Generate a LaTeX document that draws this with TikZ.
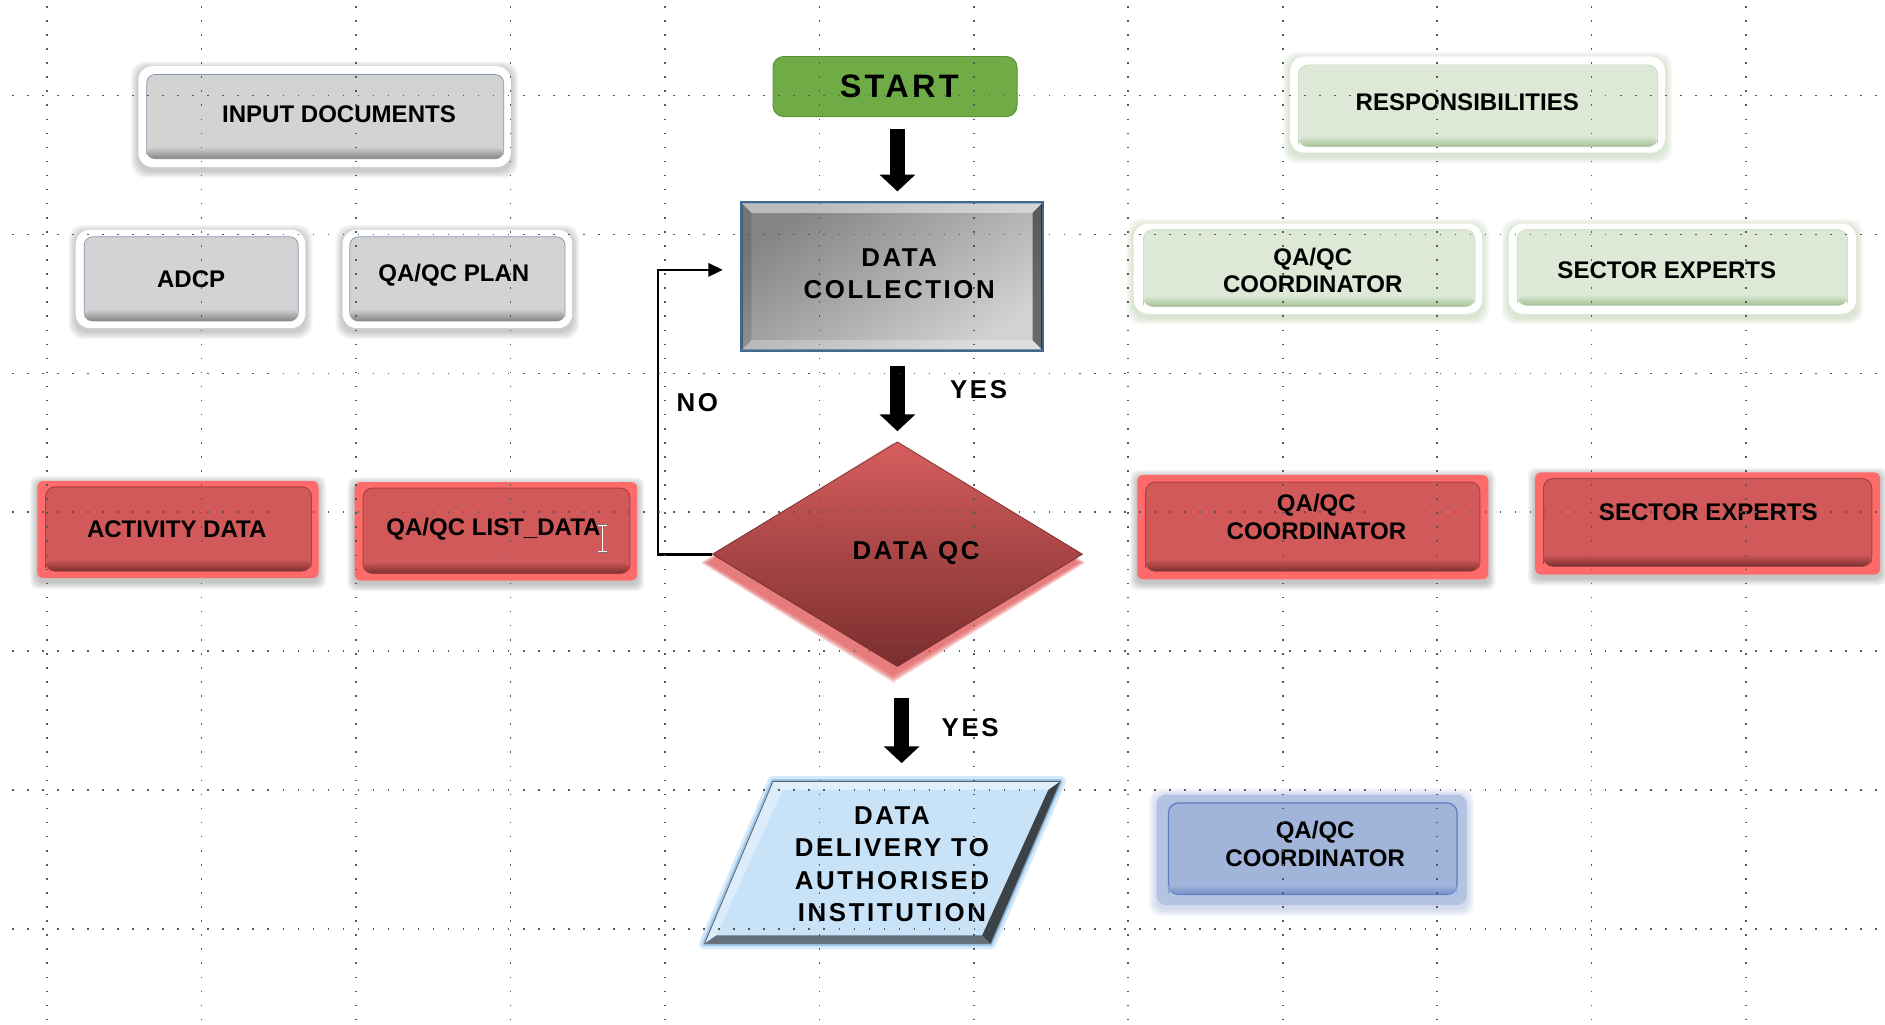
\documentclass[tikz,border=0pt]{standalone}
\usepackage{fontspec}
\setmainfont{Liberation Sans}
\newfontfamily\spacedfont{Liberation Sans}[LetterSpace=10]
\usetikzlibrary{shapes.geometric,arrows.meta,calc}

\definecolor{grayfill}{HTML}{D3D3D3}
\definecolor{graydark}{HTML}{858585}
\definecolor{grayedge}{HTML}{8296B0}
\definecolor{grnfill}{HTML}{DDE9D6}
\definecolor{grndark}{HTML}{A3C194}
\definecolor{grnshadow}{HTML}{7FA86B}
\definecolor{redout}{HTML}{FF6B6B}
\definecolor{redin}{HTML}{D15959}
\definecolor{reddark}{HTML}{7E3030}
\definecolor{rededge}{HTML}{A84242}
\definecolor{bluout}{HTML}{B3C3E2}
\definecolor{bluin}{HTML}{A1B4D9}
\definecolor{bluedge}{HTML}{5B7CC0}
\definecolor{startg}{HTML}{6FAC45}
\definecolor{startedge}{HTML}{5A9236}
\definecolor{dcedge}{HTML}{44698F}
\definecolor{dctop}{HTML}{858585}
\definecolor{dcbot}{HTML}{D2D2D2}
\definecolor{qctop}{HTML}{D65E5E}
\definecolor{qcbot}{HTML}{7A2D2D}
\definecolor{qcglow}{HTML}{E04848}
\definecolor{parfill}{HTML}{C8E2F8}
\definecolor{parglow}{HTML}{8CC2F0}

% soft shadow: x1,y1,x2,y2,color,opacity,radius
\newcommand\softsh[7]{\foreach \k in {1,...,6}{\fill[#5,opacity=#6,rounded corners=#7pt] ({#1-\k},{#2-\k+2}) rectangle ({#3+\k},{#4+\k+3});}}
% node from corners: style,name,x1,y1,x2,y2
\newcommand\shapebox[6]{\node[#1, minimum width={#5pt-#3pt}, minimum height={#6pt-#4pt}] (#2) at ({(#3+#5)/2},{(#4+#6)/2}) {};}
% gray box: name, halo x1 y1 x2 y2, inner x1 y1 x2 y2
\newcommand\grayboxx[9]{%
  \softsh{#2}{#3}{#4}{#5}{black}{0.035}{12}
  \fill[white, rounded corners=12pt] (#2,#3) rectangle (#4,#5);
  \shapebox{grayshape}{#1}{#6}{#7}{#8}{#9}
  \shade[top color=grayfill, bottom color=graydark, rounded corners=7pt] (#6,{#9-10}) rectangle (#8,#9);}
\newcommand\greenboxx[9]{%
  \softsh{#2}{#3}{#4}{#5}{grnshadow}{0.05}{12}
  \fill[white, rounded corners=12pt] (#2,#3) rectangle (#4,#5);
  \shapebox{greenshape}{#1}{#6}{#7}{#8}{#9}
  \shade[top color=grnfill, bottom color=grndark, rounded corners=8pt] (#6,{#9-9}) rectangle (#8,#9);}
\newcommand\redboxx[9]{%
  \softsh{#2}{#3}{#4}{#5}{black}{0.04}{6}
  \fill[redout, rounded corners=5pt] (#2,#3) rectangle (#4,#5);
  \shapebox{redshape}{#1}{#6}{#7}{#8}{#9}
  \shade[top color=redin, bottom color=reddark, rounded corners=8pt] (#6,{#9-10}) rectangle (#8,#9);}

\begin{document}
\begin{tikzpicture}[x=1pt,y=-1pt,
  grayshape/.style={rectangle, rounded corners=7pt, fill=grayfill, draw=grayedge, line width=0.6pt},
  greenshape/.style={rectangle, rounded corners=8pt, fill=grnfill, draw=grnfill!90!black, line width=0.4pt},
  redshape/.style={rectangle, rounded corners=8pt, fill=redin, draw=rededge, line width=0.9pt},
  blueshape/.style={rectangle, rounded corners=8pt, fill=bluin, draw=bluedge, line width=1pt},
  startshape/.style={rectangle, rounded corners=9pt, fill=startg, draw=startedge, line width=0.8pt, minimum width=203pt, minimum height=50pt},
  dcshape/.style={rectangle, draw=dcedge, line width=1.5pt, top color=dctop, bottom color=dcbot, shading angle=35, minimum width=250pt, minimum height=122pt},
  qcshape/.style={diamond, draw=qcbot, line width=0.6pt, top color=qctop, bottom color=qcbot, minimum width=308pt, minimum height=187pt, inner sep=0pt},
  parshape/.style={rectangle, minimum width=296pt, minimum height=135pt, inner sep=0pt},
  txt/.style={font=\bfseries\fontsize{20}{23}\selectfont, align=center, inner sep=0pt},
  stxt/.style={font=\spacedfont\bfseries\fontsize{21.5}{26.5}\selectfont, align=center, inner sep=0pt},
  blockarrow/.style={line width=12pt, -{Triangle[width=29pt,length=14pt]}},
  loopline/.style={line width=2.2pt, -{Triangle[width=11pt,length=12pt]}},
  griddots/.style={line width=1.3pt, black!65, dash pattern=on 1.3pt off 11.2pt},
  ]
\useasboundingbox (0,0) rectangle (1568,852.6);
\fill[white] (0,0) rectangle (1568,852.6);

% ---- input documents (gray) ----
\grayboxx{inp}{115}{55}{425}{139}{122}{62}{419}{132}
\grayboxx{adcp}{63}{191}{254}{273}{70}{197}{248}{267}
\grayboxx{plan}{285}{191}{476}{273}{291}{197}{470}{267}

% ---- responsibilities (green) ----
\greenboxx{resp}{1073}{47}{1385}{127}{1080}{54}{1379}{122}
\greenboxx{gcoord}{943}{186}{1233}{261}{951}{191}{1227}{255}
\greenboxx{gsect}{1255}{186}{1544}{261}{1262}{191}{1537}{254}

% ---- red boxes ----
\redboxx{act}{31}{400}{265}{481}{38}{405}{259}{475}
\redboxx{lst}{295}{401}{530}{483}{302}{406}{524}{477}
\redboxx{rcoord}{946}{395}{1238}{482}{953}{401}{1231}{475}
\redboxx{rsect}{1277}{393}{1564}{478}{1284}{398}{1557}{471}

% ---- blue box ----
\foreach \k in {1,...,6}{\fill[bluout,opacity=0.12,rounded corners=10pt] ({962-\k},{661-\k+1}) rectangle ({1220+\k},{753+\k+3});}
\fill[bluout, rounded corners=8pt] (962,661) rectangle (1220,753);
\shapebox{blueshape}{bcoord}{972}{668}{1212}{744}
\shade[top color=bluin, bottom color=bluedge!85, rounded corners=8pt] (972,736) rectangle (1212,744);

% ---- start ----
\node[startshape] (start) at (744.5,72) {};

% ---- data collection ----
\node[dcshape] (dc) at (742,230) {};
\fill[white, opacity=0.45] (617,169) -- (867,169) -- (859,177) -- (625,177) -- cycle;
\fill[black, opacity=0.5] (867,169) -- (867,291) -- (859,283) -- (859,177) -- cycle;
\fill[white, opacity=0.25] (617,291) -- (867,291) -- (859,283) -- (625,283) -- cycle;
\fill[black, opacity=0.12] (617,169) -- (625,177) -- (625,283) -- (617,291) -- cycle;
\draw[dcedge, line width=1.5pt] (dc.south west) rectangle (dc.north east);

% ---- data qc diamond ----
\foreach \k in {0,...,6}{\fill[qcglow, opacity=0.16] ({743},{374-\k}) -- ({897+\k},468) -- (743,{562+\k}) -- ({589-\k},468) -- cycle;}
\node[qcshape] (qc) at (746.5,461) {};

% ---- data delivery parallelogram ----
\node[parshape] (par) at (734,717.5) {};
\draw[parglow, line width=9pt, opacity=0.35, line join=round] (643,650) -- (882,650) -- (824,785) -- (586,785) -- cycle;
\draw[parglow, line width=4pt, opacity=0.8, line join=round] (643,650) -- (882,650) -- (824,785) -- (586,785) -- cycle;
\fill[parfill] (643,650) -- (882,650) -- (824,785) -- (586,785) -- cycle;
\fill[white, opacity=0.45] (643,650) -- (882,650) -- (872,657) -- (651,657) -- cycle;
\fill[white, opacity=0.35] (643,650) -- (651,657) -- (596,778) -- (586,785) -- cycle;
\fill[black, opacity=0.7] (882,650) -- (824,785) -- (817,778) -- (872,657) -- cycle;
\fill[black, opacity=0.5] (586,785) -- (824,785) -- (817,778) -- (596,778) -- cycle;
\draw[black!60, line width=0.7pt] (643,650) -- (882,650) -- (824,785) -- (586,785) -- cycle;

% ---- connectors ----
\draw[blockarrow] ([xshift=2pt,yshift=-10pt]start.south) -- ([xshift=4.5pt,yshift=9pt]dc.north);
\draw[blockarrow] ([xshift=4.5pt,yshift=-13pt]dc.south) -- ([yshift=8.5pt]qc.north);
\draw[blockarrow] ([xshift=3.5pt,yshift=-25.5pt]qc.south) -- ([xshift=3.5pt,yshift=15pt]qc.south |- par.north);
\draw[loopline] (qc.west) -- ++(-45pt,0) |- ([xshift=-15pt,yshift=5.5pt]dc.west);

% ---- texts ----
\node[txt] (inpT) at (282,95) {INPUT DOCUMENTS};
\node[txt] (adcpT) at (159,232) {ADCP};
\node[txt] (planT) at (377.5,229) {QA/QC PLAN};
\node[txt] (respT) at (1220.5,85) {RESPONSIBILITIES};
\node[txt] (gcoordT) at (1092,225) {QA/QC\\COORDINATOR};
\node[txt] (gsectT) at (1386.5,225) {SECTOR EXPERTS};
\node[txt] (actT) at (147,440) {ACTIVITY DATA};
\node[txt] (lstT) at (410.5,440) {QA/QC LIST\_DATA};
\node[txt] (rcoordT) at (1095,430) {QA/QC\\COORDINATOR};
\node[txt] (rsectT) at (1421,426) {SECTOR EXPERTS};
\node[txt] (bcoordT) at (1094,702) {QA/QC\\COORDINATOR};
\node[stxt, font=\spacedfont\bfseries\fontsize{27}{30}\selectfont] (startT) at (748,72) {START};
\node[stxt] (dcT) at (748,228) {DATA\\COLLECTION};
\node[stxt] (qcT) at (762,460) {DATA QC};
\node[stxt, font=\spacedfont\bfseries\fontsize{21.5}{27}\selectfont] (parT) at (742,719) {DATA\\DELIVERY TO\\AUTHORISED\\INSTITUTION};
\node[stxt] (yes1) at (814,324) {YES};
\node[stxt] (yes2) at (807,605) {YES};
\node[stxt] (noT) at (580,335) {NO};

% ---- text cursor ----
\draw[black!55, line width=1.8pt] (501,437) -- (501,459) (497,437) -- (505,437) (497,459) -- (505,459);
\draw[white, line width=0.8pt] (501,437) -- (501,459) (497.5,437) -- (504.5,437) (497.5,459) -- (504.5,459);

% ---- grid dots (on top) ----
\foreach \y in {79.6,195.1,310.6,426.1,541.6,657.1,772.6}{\draw[griddots] (10,\y) -- (1562,\y);}
\foreach \x in {39,167.5,296,424.5,553,681.5,810,938.5,1067,1195.5,1324,1452.5}{\draw[griddots, dash pattern=on 1.3pt off 10.4pt] (\x,5) -- (\x,848);}
\end{tikzpicture}
\end{document}
